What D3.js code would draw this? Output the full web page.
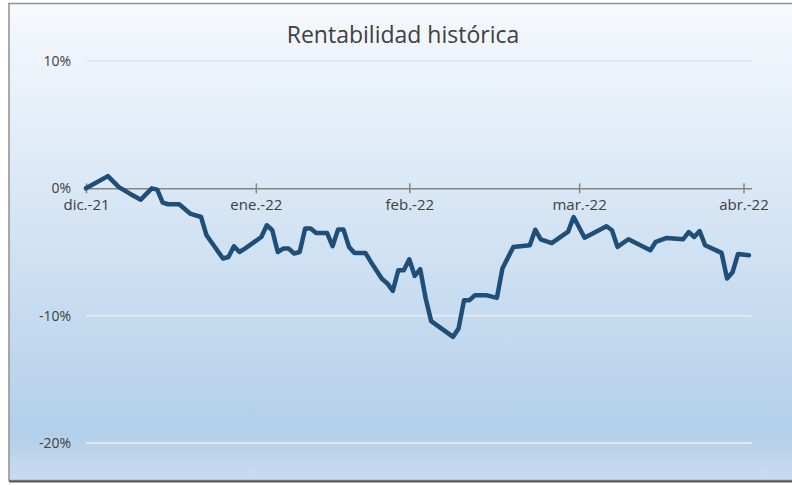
<!DOCTYPE html>
<html lang="es">
<head>
<meta charset="UTF-8">
<title>Rentabilidad histórica</title>
<script src="https://d3js.org/d3.v7.min.js"></script>
<style>
  body { margin: 0; background: #fff; overflow: hidden; }
  svg { display: block; }
  text { font-family: "Open Sans", "Noto Sans", sans-serif; fill: #404040; }
</style>
</head>
<body>
<script>
// datos (posición = sesión desde el inicio, valor en %)
const etiquetasMes = ["dic.-21", "ene.-22", "feb.-22", "mar.-22", "abr.-22"];
const posicionMes = [0, 31, 59, 90, 120];
const ticksY = [10, 0, -10, -20];

const sesion = [0, 4, 6, 8, 10, 12, 13, 14, 15, 17, 19, 21, 22, 25, 26, 27, 28, 29, 32, 33,
  34, 35, 36, 37, 38, 39, 40, 41, 42, 44, 45, 46, 47, 48, 49, 51, 52, 54, 55, 56,
  57, 58, 59, 60, 61, 62, 63, 67, 68, 69, 70, 71, 73, 75, 76, 78, 81, 82, 83, 85,
  88, 89, 91, 95, 96, 97, 99, 103, 104, 106, 109, 110, 111, 112, 113, 116, 117, 118, 119, 121];
const rentabilidad = [0.0, 0.96, 0.1, -0.42, -0.89, 0.0, -0.1, -1.12, -1.25, -1.25, -1.98, -2.25, -3.69, -5.51, -5.39, -4.55, -5.0, -4.73, -3.82, -2.9,
  -3.29, -5.0, -4.73, -4.73, -5.12, -5.0, -3.16, -3.16, -3.5, -3.5, -4.55, -3.24, -3.24, -4.6, -5.07, -5.07, -5.78, -7.1, -7.47, -8.05,
  -6.43, -6.43, -5.57, -6.88, -6.35, -8.65, -10.43, -11.66, -11.0, -8.78, -8.78, -8.39, -8.39, -8.6, -6.3, -4.6, -4.47, -3.25, -4.0, -4.3,
  -3.4, -2.25, -3.88, -2.98, -3.29, -4.6, -4.0, -4.86, -4.2, -3.9, -4.0, -3.43, -3.82, -3.36, -4.47, -5.07, -7.08, -6.6, -5.15, -5.25];

const width = 792, height = 485;
const svg = d3.select("body").append("svg").attr("width", width).attr("height", height);

// fondo degradado del área del gráfico
const defs = svg.append("defs");
const grad = defs.append("linearGradient").attr("id", "fondo")
  .attr("x1", 0).attr("y1", 0).attr("x2", 0).attr("y2", 1);
grad.append("stop").attr("offset", "0%").attr("stop-color", "#f6f9fd");
grad.append("stop").attr("offset", "40%").attr("stop-color", "#d9e7f5");
grad.append("stop").attr("offset", "90%").attr("stop-color", "#b3cfea");
grad.append("stop").attr("offset", "100%").attr("stop-color", "#c9dcf0");

svg.append("rect").attr("x", 9).attr("y", 3.5).attr("width", 800).attr("height", 477)
  .attr("fill", "url(#fondo)").attr("stroke", "#8e8e8e").attr("stroke-width", 1.5);
svg.append("line").attr("x1", 9).attr("x2", 792).attr("y1", 481.5).attr("y2", 481.5)
  .attr("stroke", "#5a5a5a").attr("stroke-width", 2);

const x = d3.scaleLinear().domain([0, 121.5]).range([86, 751.7]);
const y = d3.scaleLinear().domain([-20, 10]).range([443, 61]);

// título
svg.append("text").attr("x", 403).attr("y", 43).attr("text-anchor", "middle")
  .style("font-size", "23px").text("Rentabilidad histórica");

// líneas de cuadrícula
svg.append("g").selectAll("line").data(ticksY.filter(d => d !== 0)).join("line")
  .attr("x1", x.range()[0]).attr("x2", x.range()[1])
  .attr("y1", d => y(d)).attr("y2", d => y(d))
  .attr("stroke", "#e3e8ee").attr("stroke-width", 2);

// eje Y (solo etiquetas)
const ejeY = svg.append("g").attr("transform", "translate(71,0)")
  .call(d3.axisLeft(y).tickValues(ticksY).tickSize(0).tickPadding(0).tickFormat(d => d + "%"));
ejeY.select(".domain").remove();
ejeY.selectAll("text").style("font-size", "14px").style("font-family", null).attr("fill", null);

// eje X en 0%
const ejeX = svg.append("g").attr("transform", `translate(0,${y(0)})`)
  .call(d3.axisBottom(x).tickValues(posicionMes).tickSizeOuter(0)
    .tickFormat((d, i) => etiquetasMes[i]));
ejeX.select(".domain").attr("stroke", "#868686").attr("stroke-width", 1.5);
ejeX.selectAll(".tick line").attr("y1", -5).attr("y2", 5).attr("stroke", "#868686").attr("stroke-width", 1.5);
ejeX.selectAll(".tick text").attr("y", 22).attr("dy", 0).style("font-size", "15px")
  .style("font-family", null).attr("fill", null);

// serie
const puntos = sesion.map((s, i) => [s, rentabilidad[i]]);
svg.append("path").datum(puntos)
  .attr("fill", "none").attr("stroke", "#1f4e79").attr("stroke-width", 4.5)
  .attr("stroke-linejoin", "round").attr("stroke-linecap", "round")
  .attr("d", d3.line().x(d => x(d[0])).y(d => y(d[1])));
</script>
</body>
</html>
